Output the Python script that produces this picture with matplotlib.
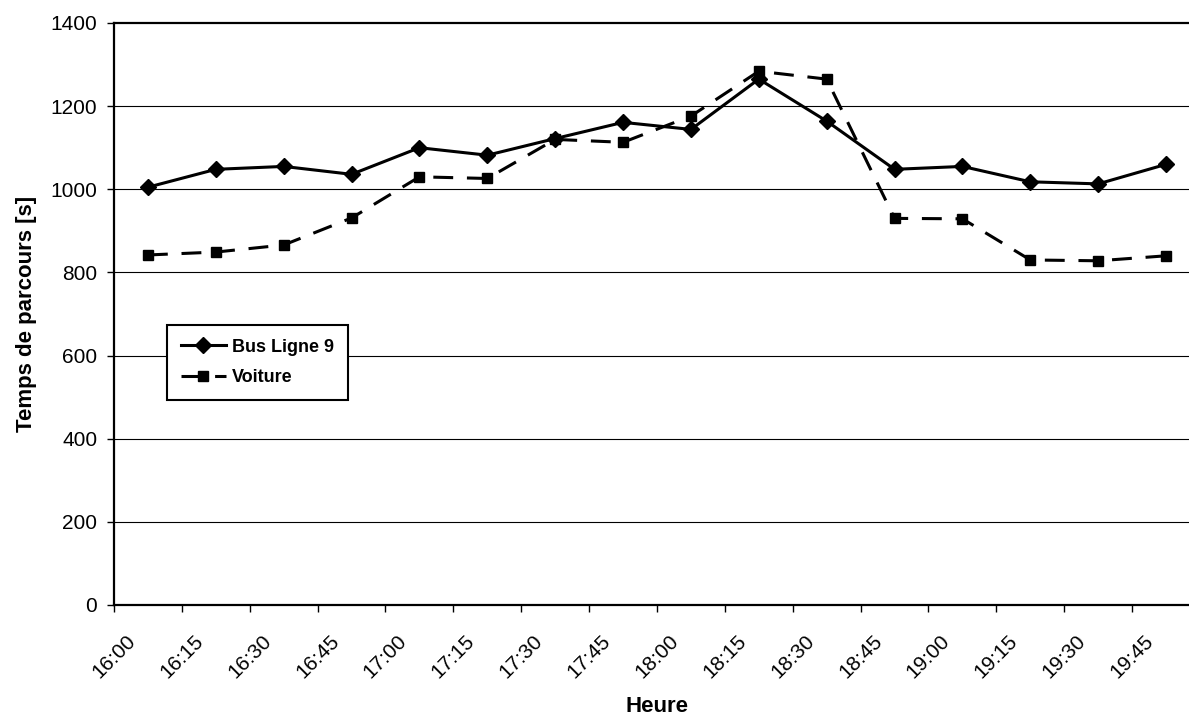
import matplotlib.pyplot as plt
import numpy as np

plt.rcParams['font.family'] = ['Liberation Sans', 'DejaVu Sans']

heures = ["16:00", "16:15", "16:30", "16:45", "17:00", "17:15", "17:30", "17:45",
          "18:00", "18:15", "18:30", "18:45", "19:00", "19:15", "19:30", "19:45"]
bus = [1005, 1048, 1055, 1036, 1100, 1082, 1122, 1161, 1144, 1265, 1164, 1048,
       1055, 1018, 1013, 1060]
voiture = [842, 849, 866, 931, 1030, 1026, 1120, 1113, 1176, 1284, 1265, 930,
           929, 830, 828, 840]

fig = plt.figure(figsize=(11.89, 7.2), dpi=100)
# plot area runs off the right edge like the original
ax = fig.add_axes([114 / 1189, 1 - 605 / 720, 1086 / 1189, 582 / 720])

x = np.arange(len(heures)) + 0.5
ax.plot(x, bus, color='black', lw=2.2, marker='D', ms=8, label='Bus Ligne 9')
ax.plot(x, voiture, color='black', lw=2.2, marker='s', ms=7,
        dashes=(6.5, 4.5), label='Voiture')

ax.set_xlim(0, 16)
ax.set_ylim(0, 1400)
ax.set_yticks(range(0, 1401, 200))
ax.set_xticks(np.arange(len(heures)))
ax.set_xticklabels(heures, rotation=45, ha='center', va='top')
ax.tick_params(axis='both', labelsize=15, width=1, length=5, color='black')
ax.tick_params(axis='x', pad=14)
ax.tick_params(axis='y', pad=7)

for y in range(200, 1400, 200):
    ax.axhline(y, color='black', lw=0.8, zorder=0)

for s in ['left', 'bottom', 'top']:
    ax.spines[s].set_linewidth(1.6)
ax.spines['right'].set_visible(False)

ax.set_xlabel('Heure', fontsize=16, fontweight='bold', labelpad=10)
ax.set_ylabel('Temps de parcours [s]', fontsize=16, fontweight='bold', labelpad=10)

leg = ax.legend(loc='upper left', bbox_to_anchor=(53 / 1086, (605 - 325) / 582),
                borderaxespad=0, fancybox=False, edgecolor='black',
                prop={'weight': 'bold', 'size': 13}, handlelength=2.5,
                handletextpad=0.35, borderpad=0.75, labelspacing=0.75, framealpha=1)
leg.get_frame().set_linewidth(1.5)

fig.savefig('out.png', dpi=100)
